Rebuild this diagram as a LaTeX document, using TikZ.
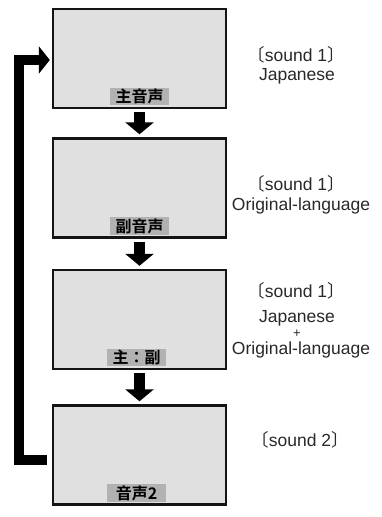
\documentclass[tikz,border=0pt]{standalone}
\usepackage{fontspec}
\setmainfont{Liberation Sans}
\newfontfamily\jpfont[BoldFont=* Bold]{Noto Sans CJK JP}
\usetikzlibrary{arrows.meta,positioning}
\definecolor{SndInk}{RGB}{20,20,20}
\definecolor{SndScreen}{RGB}{224,224,224}
\definecolor{SndTag}{RGB}{178,178,178}
\definecolor{SndText}{RGB}{40,40,40}
\newcommand\sndbracket[1]{{\jpfont 〔}#1{\jpfont 〕}}
\tikzset{
  snd/screen/.style={
    draw=SndInk,
    line width=2.4pt,
    fill=SndScreen,
    minimum width=173pt,
    minimum height=99pt,
    inner sep=0pt
  },
  snd/tag/.style={
    fill=SndTag,
    text=black,
    inner xsep=5pt,
    inner ysep=1pt,
    minimum width=59pt,
    minimum height=17pt,
    font=\jpfont\bfseries\fontsize{16}{16}\selectfont
  },
  snd/arrow/.style={-{Triangle[width=28pt,length=12pt]}, line width=11pt, draw=black},
  snd/loop/.style={-{Triangle[width=27pt,length=11pt]}, line width=10pt, line join=miter, draw=black},
  snd/note/.style={font=\fontsize{17.5}{17.5}\selectfont, text=SndText, inner sep=0pt},
  snd/plus/.style={font=\fontsize{13}{13}\selectfont, text=SndText, inner sep=0pt}
}
\begin{document}
\begin{tikzpicture}[x=1pt,y=-1pt]
  \useasboundingbox (0,0) rectangle (382,517);
  % screens
  \node[snd/screen] (s1) at (139.5,58.5) {};
  \node[snd/screen] (s2) at (139.5,188) {};
  \node[snd/screen] (s3) at (139.5,319.5) {};
  \node[snd/screen] (s4) at (139.5,455) {};
  \node[snd/tag,anchor=south,above=4pt of s1.south] (g1) {主音声};
  \node[snd/tag,anchor=south,above=4pt of s2.south] (g2) {副音声};
  \node[snd/tag,anchor=south,above=4pt of s3.south,xshift=-3pt] (g3) {主：副};
  \node[snd/tag,anchor=south,above=4pt of s4.south,xshift=-3pt] (g4) {音声2};
  % steps
  \draw[snd/arrow] ([yshift=-3pt]s1.south) -- ([yshift=3pt]s2.north);
  \draw[snd/arrow] ([yshift=-3pt]s2.south) -- ([yshift=3pt]s3.north);
  \draw[snd/arrow] ([yshift=-3pt]s3.south) -- ([yshift=3pt]s4.north);
  \draw[snd/loop] ([xshift=-5pt,yshift=-5pt]s4.west) -- ++(-27.5,0) |- ([xshift=-2pt,yshift=-1.5pt]s1.west);
  % sound notes
  \node[snd/note] (t1a) at (296,55) {\sndbracket{sound 1}};
  \node[snd/note] (t1b) at (297,76) {Japanese};
  \node[snd/note] (t2a) at (296,184) {\sndbracket{sound 1}};
  \node[snd/note] (t2b) at (301,206) {Original-language};
  \node[snd/note] (t3a) at (296,291) {\sndbracket{sound 1}};
  \node[snd/note] (t3b) at (297,318) {Japanese};
  \node[snd/plus] (t3p) at (297,333.5) {+};
  \node[snd/note] (t3c) at (301,349.5) {Original-language};
  \node[snd/note] (t4a) at (300,440) {\sndbracket{sound 2}};
\end{tikzpicture}
\end{document}
